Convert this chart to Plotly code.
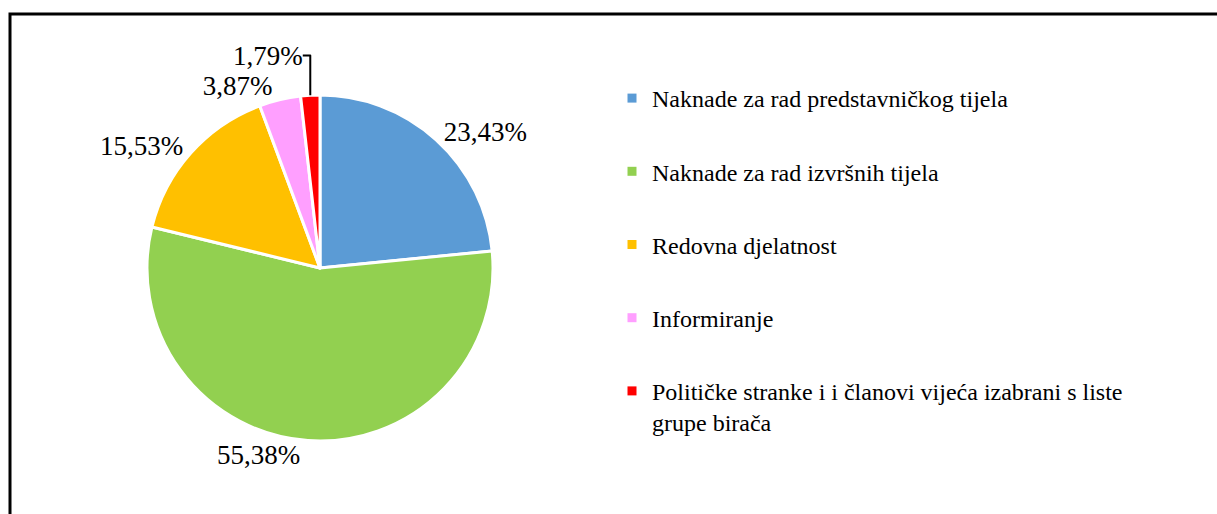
import plotly.graph_objects as go

categories = [
    "Naknade za rad predstavničkog tijela",
    "Naknade za rad izvršnih tijela",
    "Redovna djelatnost",
    "Informiranje",
    "Političke stranke i i članovi vijeća izabrani s liste<br>grupe birača",
]
values = [23.43, 55.38, 15.53, 3.87, 1.79]
colors = ["#5B9BD5", "#92D050", "#FFC000", "#FF9FFF", "#FF0000"]

W, H = 1217, 514
cx, cy, r = 320, 268, 173

fig = go.Figure()
fig.add_trace(go.Pie(
    labels=categories,
    values=values,
    sort=False,
    direction="clockwise",
    rotation=0,
    marker=dict(colors=colors, line=dict(color="white", width=3)),
    texttemplate="%{percent:.2%}",
    textposition="outside",
    textfont=dict(family="Liberation Serif", size=27, color="black"),
    showlegend=False,
    hoverinfo="label+percent",
    domain=dict(x=[(cx - r) / W, (cx + r) / W], y=[1 - (cy + r) / H, 1 - (cy - r) / H]),
))

for i, (name, col) in enumerate(zip(categories, colors)):
    fig.add_trace(go.Scatter(
        x=[None], y=[None], mode="markers", name=name,
        legendgroup=f"g{i}",
        marker=dict(symbol="square", size=9, color=col),
    ))

fig.update_layout(
    width=W, height=H,
    margin=dict(l=0, r=0, t=0, b=0),
    paper_bgcolor="white", plot_bgcolor="white",
    separators=", ",
    xaxis=dict(visible=False), yaxis=dict(visible=False),
    legend=dict(
        x=612 / W, y=1 - 76 / H, xanchor="left", yanchor="top",
        font=dict(family="Liberation Serif", size=24, color="black"),
        tracegroupgap=39, valign="top", bgcolor="rgba(0,0,0,0)",
    ),
    shapes=[dict(type="rect", xref="paper", yref="paper",
                 x0=10 / W, x1=1.02, y0=-0.02, y1=1 - 14 / H,
                 line=dict(color="black", width=3))],
)

fig.write_html("out.html", config={"displayModeBar": False},
               post_script="document.body.style.margin='0';document.body.style.overflow='hidden';")
